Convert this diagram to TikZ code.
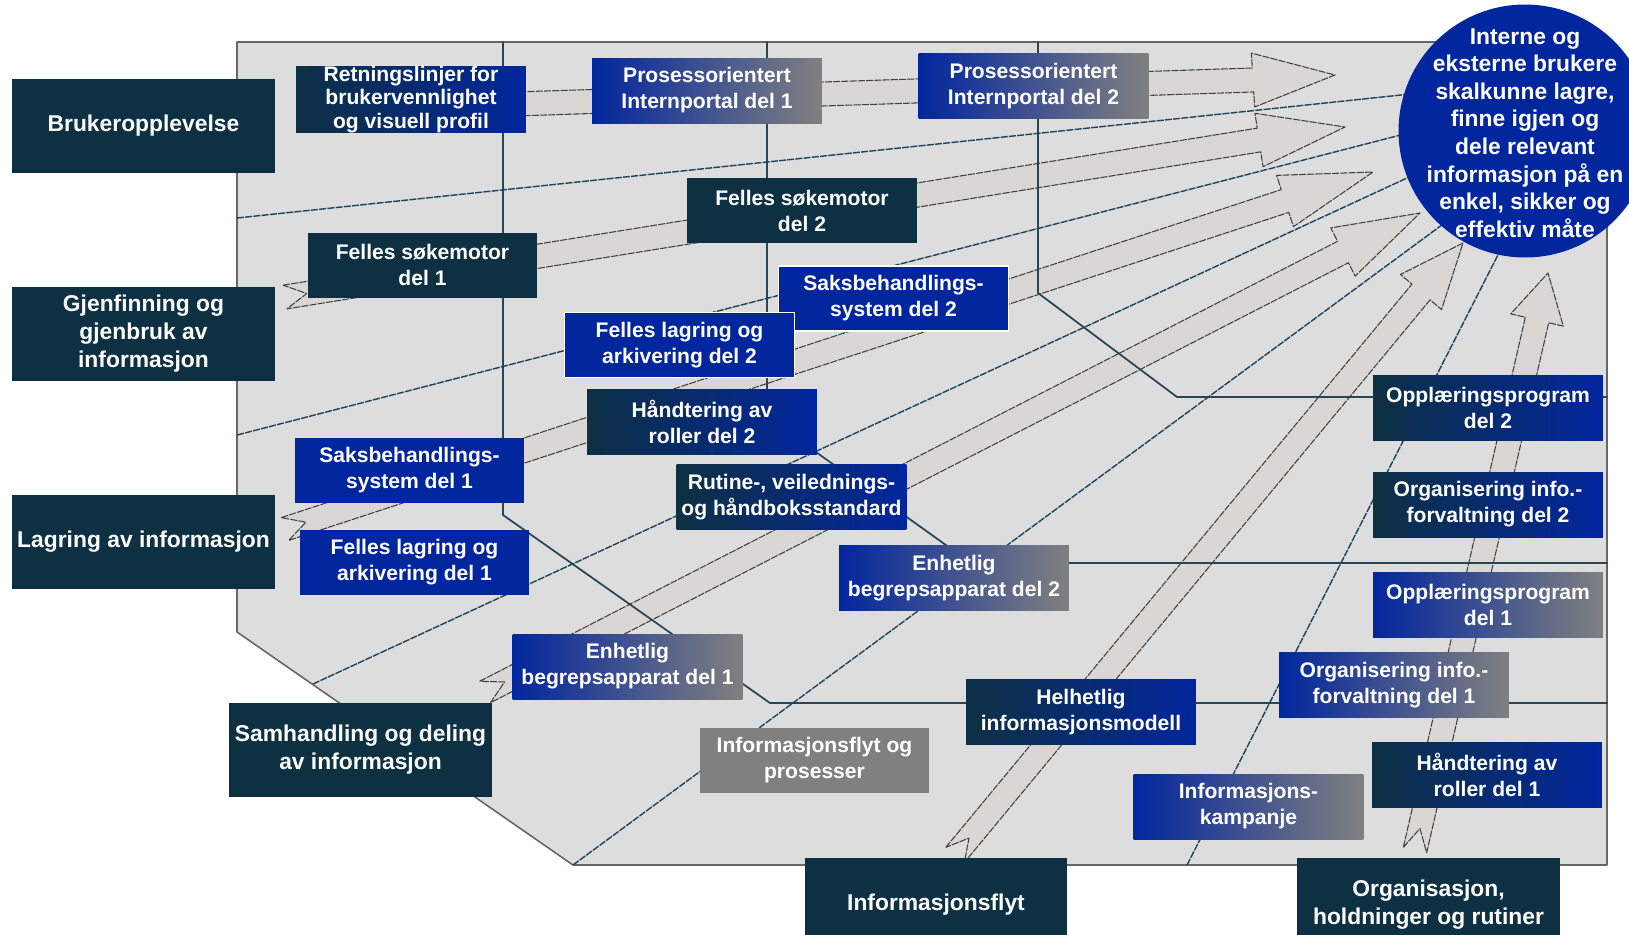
\documentclass[tikz,border=0pt]{standalone}
\usepackage{fontspec}
\setmainfont{Liberation Sans}
\usetikzlibrary{calc}
\definecolor{navy}{RGB}{13,48,67}
\definecolor{boxblue}{RGB}{2,38,158}
\definecolor{boxgray}{RGB}{128,128,128}
\definecolor{fieldgray}{RGB}{221,221,221}
\definecolor{bandgray}{RGB}{217,214,211}
\definecolor{lanecol}{RGB}{40,70,86}
\definecolor{fancol}{RGB}{26,70,92}
\begin{document}
\begin{tikzpicture}[line cap=round, line join=round, x=0.02cm, y=-0.02cm,
        field/.style={fill=fieldgray, draw=gray!80!black, line width=0.9pt},
        band/.style={fill=bandgray, draw=black!75, line width=0.6pt, line cap=butt, dash pattern=on 4pt off 0.7pt},
        lane/.style={draw=lanecol, line width=1pt},
        fan/.style={draw=fancol, line width=0.8pt, line cap=butt, dash pattern=on 4pt off 0.7pt},
        theme/.style={fill=navy, text=white, minimum width=5.26cm, minimum height=1.88cm, inner sep=0pt, align=center, font=\fontsize{13}{15.9}\selectfont\bfseries},
        task/.style={text=white, minimum width=4.6cm, minimum height=1.3cm, inner sep=0pt, align=center, font=\fontsize{12}{14.8}\selectfont\bfseries},
        navytask/.style={task, fill=navy},
        bluetask/.style={task, fill=boxblue},
        graytask/.style={task, fill=boxgray},
        fadegray/.style={task, left color=boxblue, right color=boxgray},
        fadeblue/.style={task, left color=navy, right color=boxblue},
        goal/.style={circle, fill=boxblue, minimum size=5.06cm, inner sep=0pt},
        goaltext/.style={text=white, align=center, inner sep=0pt, font=\fontsize{13}{15.7}\selectfont\bfseries}]
                \useasboundingbox (0,0) rectangle (1629,934);
                \clip (0,0) rectangle (1629,934);
                \fill[white] (0,0) rectangle (1629,934);
                \filldraw[field] (237,42) -- (1607,42) -- (1607,865) -- (573,865) -- (237,632) -- cycle;
                \coordinate (tA) at (330,110);  \coordinate (bA) at (1253,80);  \coordinate (hA) at (1335,75);
                \coordinate (tB) at (285,297);  \coordinate (bB) at (1259,140); \coordinate (hB) at (1345,127);
                \coordinate (tC) at (285,529);  \coordinate (bC) at (1285,201); \coordinate (hC) at (1373,172);
                \coordinate (tD) at (485,692);  \coordinate (bD) at (1343,252); \coordinate (hD) at (1420,213);
                \coordinate (tE) at (955,855);  \coordinate (bE) at (1421,292); \coordinate (hE) at (1463,243);
                \coordinate (tF) at (1415,850); \coordinate (bF) at (1537,320); \coordinate (hF) at (1548,273);
                \foreach \a in {A,B,C,D,E,F}
                    \filldraw[band] ($(t\a)!0.24cm!90:(b\a)$) -- ($(b\a)!0.24cm!90:(h\a)$)
                        -- ($(b\a)!0.54cm!90:(h\a)$) -- (h\a) -- ($(b\a)!0.54cm!-90:(h\a)$)
                        -- ($(b\a)!0.24cm!-90:(h\a)$) -- ($(t\a)!0.24cm!-90:(b\a)$)
                        -- ($(t\a)!0.44cm!(b\a)$) -- cycle;
                \draw[lane] (503,42) -- (503,515) -- (770,703) -- (1607,703);
                \draw[lane] (767,42) -- (767,417) -- (971,563) -- (1607,563);
                \draw[lane] (1038,42) -- (1038,293) -- (1177,397) -- (1607,397);
                \foreach \p/\q in {{237,218}/{1420,93}, {237,435}/{1420,130}, {313,684}/{1420,172},
                        {573,865}/{1450,219}, {1187,865}/{1503,245}}
                    \draw[fan] (\p) -- (\q);
                \node[theme] (bruker) at (143.5,126) {Brukeropplevelse};
                \node[theme] (gjenfinning) at (143.5,334) {Gjenfinning og\\gjenbruk av\\informasjon};
                \node[theme] (lagring) at (143.5,542) {Lagring av informasjon};
                \node[theme] (samhandling) at (360.5,750) {Samhandling og deling\\av informasjon};
                \node[theme] (infoflyt) at (936,905) {Informasjonsflyt};
                \node[theme] (organisasjon) at (1428.5,905) {Organisasjon,\\holdninger og rutiner};
                \node[fadeblue, font=\fontsize{12}{13.4}\selectfont\bfseries] (retning) at (411,99.5) {Retningslinjer for\\brukervennlighet\\og visuell profil};
                \node[fadegray] (portal1) at (707,90.5) {Prosessorientert\\Internportal del 1};
                \node[fadegray] (portal2) at (1033.5,86) {Prosessorientert\\Internportal del 2};
                \node[navytask] (sok2) at (802,210.5) {Felles søkemotor\\del 2};
                \node[navytask] (sok1) at (422.5,265) {Felles søkemotor\\del 1};
                \node[bluetask, draw=white, line width=0.8pt] (saks2) at (893.5,298.5) {Saksbehandlings-\\system del 2};
                \node[bluetask, draw=white, line width=0.8pt] (arkiv2) at (679.5,345) {Felles lagring og\\arkivering del 2};
                \node[fadeblue] (roller2) at (702,422) {Håndtering av\\roller del 2};
                \node[bluetask] (saks1) at (409.5,470) {Saksbehandlings-\\system del 1};
                \node[fadeblue] (rutine) at (791.5,497) {Rutine-, veilednings-\\og håndboksstandard};
                \node[bluetask] (arkiv1) at (414.5,562) {Felles lagring og\\arkivering del 1};
                \node[fadegray] (begrep2) at (954,578) {Enhetlig\\begrepsapparat del 2};
                \node[fadegray] (begrep1) at (627.5,666.5) {Enhetlig\\begrepsapparat del 1};
                \node[fadeblue] (modell) at (1081,712) {Helhetlig\\informasjonsmodell};
                \node[graytask] (flytprosess) at (814.5,760) {Informasjonsflyt og\\prosesser};
                \node[fadegray] (kampanje) at (1248.5,806.5) {Informasjons-\\kampanje};
                \node[fadeblue] (oppl2) at (1488,408) {Opplæringsprogram\\del 2};
                \node[fadeblue] (orgforv2) at (1488,504.5) {Organisering info.-\\forvaltning del 2};
                \node[fadegray] (oppl1) at (1488,605) {Opplæringsprogram\\del 1};
                \node[fadegray] (orgforv1) at (1394,685) {Organisering info.-\\forvaltning del 1};
                \node[fadeblue] (roller1) at (1487,774.5) {Håndtering av\\roller del 1};
                \node[goal] (maal) at (1525,131) {};
                \node[goaltext] at (1525,133) {Interne og\\eksterne brukere\\skalkunne lagre,\\finne igjen og\\dele relevant\\informasjon på en\\enkel, sikker og\\effektiv måte};
            \end{tikzpicture}
\end{document}
